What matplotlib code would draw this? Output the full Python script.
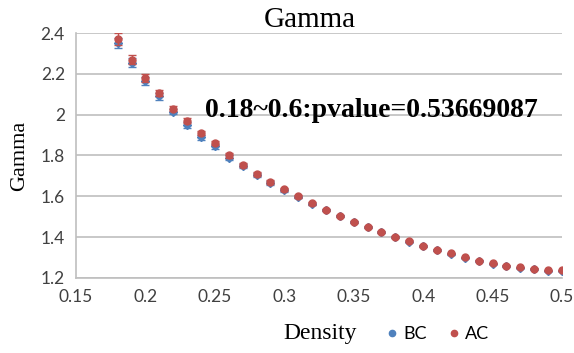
import matplotlib.pyplot as plt
import numpy as np

# data
density = [0.18, 0.19, 0.20, 0.21, 0.22, 0.23, 0.24, 0.25, 0.26, 0.27, 0.28,
           0.29, 0.30, 0.31, 0.32, 0.33, 0.34, 0.35, 0.36, 0.37, 0.38, 0.39,
           0.40, 0.41, 0.42, 0.43, 0.44, 0.45, 0.46, 0.47, 0.48, 0.49, 0.50]
gamma_bc = [2.35, 2.255, 2.165, 2.09, 2.015, 1.95, 1.89, 1.845, 1.79, 1.75,
            1.705, 1.665, 1.63, 1.597, 1.563, 1.533, 1.503, 1.473, 1.448,
            1.423, 1.40, 1.378, 1.355, 1.335, 1.318, 1.30, 1.283, 1.27,
            1.258, 1.25, 1.243, 1.235, 1.235]
gamma_ac = [2.37, 2.27, 2.18, 2.105, 2.03, 1.97, 1.91, 1.86, 1.80, 1.755,
            1.71, 1.67, 1.635, 1.60, 1.565, 1.535, 1.505, 1.475, 1.45,
            1.425, 1.402, 1.38, 1.357, 1.337, 1.32, 1.302, 1.285, 1.272,
            1.26, 1.252, 1.245, 1.237, 1.237]
err_bc = [0.025, 0.022, 0.018, 0.016, 0.014, 0.013, 0.012, 0.011, 0.010,
          0.009, 0.008, 0.008, 0.007, 0.006, 0.006, 0.005, 0.005, 0.005,
          0.004, 0.004, 0.004, 0.004, 0.004, 0.003, 0.003, 0.003, 0.003,
          0.003, 0.003, 0.003, 0.003, 0.003, 0.003]
err_ac = [0.028, 0.024, 0.019, 0.016, 0.014, 0.013, 0.012, 0.011, 0.010,
          0.009, 0.008, 0.008, 0.007, 0.006, 0.006, 0.005, 0.005, 0.005,
          0.004, 0.004, 0.004, 0.004, 0.004, 0.003, 0.003, 0.003, 0.003,
          0.003, 0.003, 0.003, 0.003, 0.003, 0.003]

blue = '#4f81bd'
red = '#c0504d'
grid_grey = '#bfbfbf'
tick_font = 'Lato'
serif_font = 'Liberation Serif'

fig = plt.figure(figsize=(5.74, 3.53), dpi=100)
ax = fig.add_axes([76 / 574, 1 - 278 / 353, (562 - 76) / 574, (278 - 33) / 353])

ax.errorbar(density, gamma_bc, yerr=err_bc, fmt='D', ms=4.5, color=blue,
            ecolor=blue, elinewidth=1, capsize=3, label='BC', zorder=3)
ax.errorbar(density, gamma_ac, yerr=err_ac, fmt='o', ms=5, color=red,
            ecolor=red, elinewidth=1, capsize=3, label='AC', zorder=4)

ax.set_xlim(0.15, 0.5)
ax.set_ylim(1.2, 2.4)
ax.set_xticks([0.15, 0.2, 0.25, 0.3, 0.35, 0.4, 0.45, 0.5])
ax.set_xticklabels(['0.15', '0.2', '0.25', '0.3', '0.35', '0.4', '0.45', '0.5'])
ax.set_yticks([1.2, 1.4, 1.6, 1.8, 2.0, 2.2, 2.4])
ax.set_yticklabels(['1.2', '1.4', '1.6', '1.8', '2', '2.2', '2.4'])
ax.yaxis.grid(True, color=grid_grey, lw=1.2)
ax.set_axisbelow(True)
for side in ['top', 'right']:
    ax.spines[side].set_visible(False)
for side in ['left', 'bottom']:
    ax.spines[side].set_color(grid_grey)
    ax.spines[side].set_linewidth(1.2)
ax.tick_params(length=0, labelsize=12.5, colors='#404040', pad=8)
for lab in ax.get_xticklabels() + ax.get_yticklabels():
    lab.set_family(tick_font)

fig.text(310 / 574, 1 - 27 / 353, 'Gamma', fontsize=21, family=serif_font,
         ha='center', va='baseline')
ax.set_ylabel('Gamma', fontsize=16, family=serif_font, labelpad=8)
fig.text(320 / 574, 1 - 333 / 353, 'Density', fontsize=17, family=serif_font,
         ha='center', va='center')
ax.text(0.363, 2.02, '0.18~0.6:pvalue=0.53669087', fontsize=20,
        family=serif_font, fontweight='bold', ha='center', va='center')

handles = [plt.Line2D([], [], ls='', marker='o', ms=4.5, color=blue),
           plt.Line2D([], [], ls='', marker='o', ms=4.5, color=red)]
fig.legend(handles, ['BC', 'AC'], loc='center', ncol=2, frameon=False,
           bbox_to_anchor=(436 / 574, 1 - 334 / 353), handletextpad=0.1,
           columnspacing=1.0, handlelength=1.0, prop={'family': tick_font, 'size': 13})

fig.savefig('out.png', dpi=100)
